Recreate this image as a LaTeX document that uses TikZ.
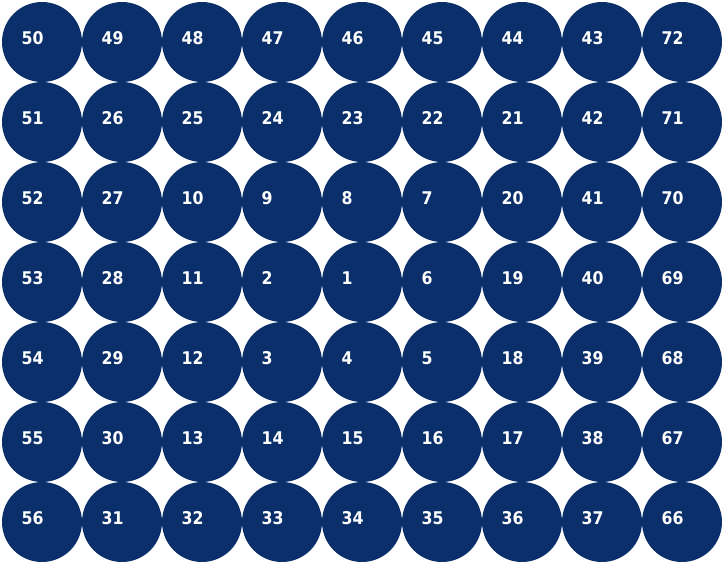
\documentclass[tikz,border=0pt]{standalone}
\usepackage{fontspec}
\setmainfont{DejaVu Sans Condensed}
\definecolor{disc}{HTML}{0A2F6A}
\tikzset{
  cell/.style={circle, fill=disc, draw=none, minimum size=80pt, inner sep=0pt},
  num/.style={anchor=base west, text=white, font=\fontsize{17.5}{19}\selectfont\bfseries, inner sep=0pt}
}
\begin{document}
\begin{tikzpicture}[x=1pt,y=-1pt]
\useasboundingbox (0,0) rectangle (723,563);
\foreach \row [count=\j from 0] in {
  {50,49,48,47,46,45,44,43,72},
  {51,26,25,24,23,22,21,42,71},
  {52,27,10,9,8,7,20,41,70},
  {53,28,11,2,1,6,19,40,69},
  {54,29,12,3,4,5,18,39,68},
  {55,30,13,14,15,16,17,38,67},
  {56,31,32,33,34,35,36,37,66}}{
  \foreach \v [count=\i from 0] in \row {
    \node[cell] (c\v) at ({42+80*\i},{42+80*\j}) {};
    \node[num] (t\v) at ({21.5+80*\i},{44+80*\j}) {\v};
  }
}
\end{tikzpicture}
\end{document}
